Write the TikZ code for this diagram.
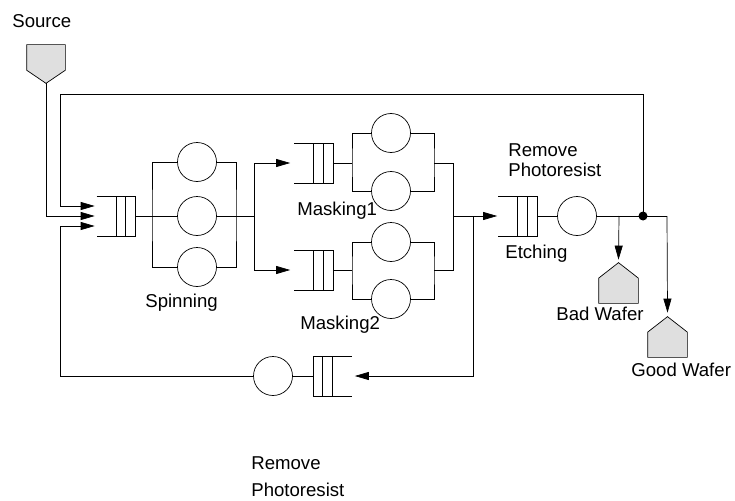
\documentclass[tikz,border=0pt]{standalone}
\usepackage{fontspec}
\setmainfont{Liberation Sans}
\usetikzlibrary{arrows.meta, calc, positioning}

\tikzset{
  server/.style={circle, draw, fill=white, minimum size=39pt, inner sep=0pt},
  qbox/.style={minimum width=38pt, minimum height=39pt, inner sep=0pt},
  srcbox/.style={minimum width=38pt, minimum height=38pt, inner sep=0pt},
  sinkbox/.style={minimum width=39pt, minimum height=40pt, inner sep=0pt},
  lbl/.style={font=\fontsize{18.6}{20}\selectfont, inner sep=0pt, anchor=west, align=left},
  flow/.style={-{Triangle[length=14pt,width=8pt]}},
}

\begin{document}
\begin{tikzpicture}[x=1pt, y=-1pt, line width=0.7pt]
  \useasboundingbox (0,0) rectangle (735,500);
  % Queues
  \node[qbox] (qspin)  at (116,216) {};
  \node[qbox] (qmask1) at (313.5,163) {};
  \node[qbox] (qmask2) at (313.5,270) {};
  \node[qbox] (qetch)  at (517.5,216) {};
  \node[qbox] (qback)  at (332.5,376) {};
  \foreach \q in {qspin,qmask1,qmask2,qetch} {
    \draw (\q.north west) -- (\q.north east) -- (\q.south east) -- (\q.south west);
    \draw (\q.north) -- (\q.south);
    \draw ($(\q.north)!.5!(\q.north east)$) -- ($(\q.south)!.5!(\q.south east)$);
  }
  \draw (qback.north east) -- (qback.north west) -- (qback.south west) -- (qback.south east);
  \draw (qback.north) -- (qback.south);
  \draw ($(qback.north)!.5!(qback.north west)$) -- ($(qback.south)!.5!(qback.south west)$);
  % Servers
  \node[server] (spin1) at (197,162) {};
  \node[server] (spin2) at (197,216) {};
  \node[server] (spin3) at (197,267) {};
  \node[server] (mask1a) at (391,133) {};
  \node[server] (mask1b) at (391,191) {};
  \node[server] (mask2a) at (391,242) {};
  \node[server] (mask2b) at (391,299) {};
  \node[server] (etch) at (577,216) {};
  \node[server] (back) at (273,376) {};
  % Source and sinks
  \node[srcbox] (src) at (46,64) {};
  \node[sinkbox] (bad) at (618.5,283) {};
  \node[sinkbox] (good) at (667.5,337) {};
  \filldraw[fill=gray!25] (src.north west) -- (src.north east)
    -- ($(src.north east)!.66!(src.south east)$) -- (src.south)
    -- ($(src.north west)!.66!(src.south west)$) -- cycle;
  \foreach \s in {bad,good} {
    \filldraw[fill=gray!25] (\s.south west) -- ($(\s.north west)!.38!(\s.south west)$)
      -- (\s.north) -- ($(\s.north east)!.38!(\s.south east)$) -- (\s.south east) -- cycle;
  }
  % Helper points
  \coordinate (in1) at ($(qspin.west)+(-2,-10)$);
  \coordinate (in2) at ($(qspin.west)+(-2,0)$);
  \coordinate (in3) at ($(qspin.west)+(-2,10)$);
  \coordinate (spinin) at (152,216);
  \coordinate (spinout) at (236,216);
  \coordinate (fork) at (254,216);
  \coordinate (m1in) at (352,163);
  \coordinate (m1out) at (434,163);
  \coordinate (m2in) at (352,270);
  \coordinate (m2out) at (434,270);
  \coordinate (mjoin1) at (453,163);
  \coordinate (mjoin2) at (453,270);
  \coordinate (mmid) at (453,216);
  \coordinate (tap) at (473,216);
  \coordinate (btap) at (619,216);
  \coordinate (junc) at (643,216);
  \coordinate (gturn) at (667,216);
  \coordinate (topR) at (643,94);
  \coordinate (topL) at (60,94);
  \coordinate (botL) at (60,376);
  % Spinning
  \draw[flow] (src.south) |- (in2);
  \draw (qspin.east) -- (spin2.west);
  \draw (spin1.west) -| (spinin) |- (spin3.west);
  \draw (spin1.east) -| (spinout) |- (spin3.east);
  \draw (spin2.east) -- (fork);
  \draw[flow] (fork) |- ($(qmask1.west)+(-4,0)$);
  \draw[flow] (fork) |- ($(qmask2.west)+(-4,0)$);
  % Masking
  \draw (qmask1.east) -- (m1in);
  \draw (mask1a.west) -| (m1in) |- (mask1b.west);
  \draw (mask1a.east) -| (m1out) |- (mask1b.east);
  \draw (qmask2.east) -- (m2in);
  \draw (mask2a.west) -| (m2in) |- (mask2b.west);
  \draw (mask2a.east) -| (m2out) |- (mask2b.east);
  \draw (m1out) -- (mjoin1) -- (mjoin2) -- (m2out);
  \draw[flow] (mmid) -- ($(qetch.west)+(-1,0)$);
  % Remove photoresist loop
  \draw[flow] (tap) |- ($(qback.east)+(3,0)$);
  \draw (qback.west) -- (back.east);
  \draw[flow] (back.west) -- (botL) |- (in3);
  % Etching
  \draw (qetch.east) -- (etch.west);
  \draw (etch.east) -- (gturn);
  \draw[flow] (gturn) -- ($(good.north)+(0,-4)$);
  \draw[flow] (btap) -- ($(bad.north)+(0,-3)$);
  \draw[flow] (junc) -- (topR) -- (topL) |- (in1);
  \fill (junc) circle (4.5pt);
  % Labels
  \node[lbl] (lsrc) at (12,21) {Source};
  \node[lbl] (lspin) at (145,303) {Spinning};
  \node[lbl] (lmask1) at (297,211) {Masking1};
  \node[lbl] (lmask2) at (300,325) {Masking2};
  \node[lbl] (lrem1) at (508,160) {Remove\\Photoresist};
  \node[lbl] (letch) at (505,254) {Etching};
  \node[lbl] (lbad) at (556,314) {Bad Wafer};
  \node[lbl] (lgood) at (631,370) {Good Wafer};
  \node[lbl] (lrem2) at (251,477) {Remove\\[7pt]Photoresist};
\end{tikzpicture}
\end{document}
